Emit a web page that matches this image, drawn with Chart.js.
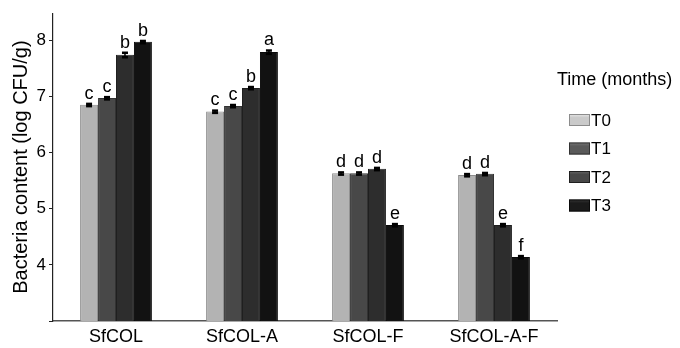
<!DOCTYPE html>
<html>
<head>
<meta charset="utf-8">
<script src="https://cdn.jsdelivr.net/npm/chart.js@4/dist/chart.umd.min.js"></script>
<style>
  html, body { margin: 0; padding: 0; background: #fff; }
  #wrap { width: 680px; height: 348px; }
</style>
</head>
<body>
<div id="wrap"><canvas id="c" width="680" height="348"></canvas></div>
<script>
// Samples and storage times
const categories = ['SfCOL', 'SfCOL-A', 'SfCOL-F', 'SfCOL-A-F'];
const seriesNames = ['T0', 'T1', 'T2', 'T3'];

// Mean bacteria content (log CFU/g) per sample, one array per time point
const t0Values = [6.85, 6.73, 5.63, 5.60];
const t1Values = [6.97, 6.83, 5.63, 5.62];
const t2Values = [7.74, 7.15, 5.71, 4.71];
const t3Values = [7.97, 7.79, 4.71, 4.14];

// Standard errors
const t0Errors = [0.02, 0.02, 0.02, 0.02];
const t1Errors = [0.02, 0.02, 0.02, 0.02];
const t2Errors = [0.04, 0.02, 0.02, 0.02];
const t3Errors = [0.02, 0.03, 0.02, 0.02];

// Significance letters
const t0Letters = ['c', 'c', 'd', 'd'];
const t1Letters = ['c', 'c', 'd', 'd'];
const t2Letters = ['b', 'b', 'd', 'e'];
const t3Letters = ['b', 'a', 'e', 'f'];

// Y axis tick labels shown
const yTickLabels = [4, 5, 6, 7, 8];

const fills = ['#b3b3b3', '#484848', '#2d2d2d', '#121212'];
const edges = ['#8c8c8c', '#333333', '#1f1f1f', '#0a0a0a'];
const legendFills = ['#cacaca', '#5a5a5a', '#484848', '#1a1a1a'];

const allValues = [t0Values, t1Values, t2Values, t3Values];
const allErrors = [t0Errors, t1Errors, t2Errors, t3Errors];
const allLetters = [t0Letters, t1Letters, t2Letters, t3Letters];

const FONT = '"Liberation Sans", Arial, sans-serif';

const datasets = seriesNames.map((name, i) => ({
  label: name,
  data: allValues[i],
  errors: allErrors[i],
  letters: allLetters[i],
  backgroundColor: fills[i],
  borderColor: edges[i],
  borderWidth: 1,
  borderSkipped: 'bottom',
  barPercentage: 1.0,
  categoryPercentage: 0.57
}));

// Error caps and significance letters above each bar
const annotatePlugin = {
  id: 'annotate',
  afterDatasetsDraw(chart) {
    const ctx = chart.ctx;
    const y = chart.scales.y;
    chart.data.datasets.forEach((ds, di) => {
      const meta = chart.getDatasetMeta(di);
      meta.data.forEach((bar, i) => {
        const v = ds.data[i], e = ds.errors[i];
        const yHi = y.getPixelForValue(v + e);
        const yLo = y.getPixelForValue(v - e);
        ctx.save();
        ctx.strokeStyle = '#000';
        ctx.fillStyle = '#000';
        ctx.lineWidth = 1.5;
        ctx.beginPath();
        ctx.moveTo(bar.x, yHi); ctx.lineTo(bar.x, yLo);
        ctx.stroke();
        ctx.fillRect(bar.x - 3, yHi - 1, 6, 2.5);
        ctx.fillRect(bar.x - 3, yLo - 1, 6, 2.5);
        ctx.font = '18px ' + FONT;
        ctx.textAlign = 'center';
        ctx.textBaseline = 'alphabetic';
        ctx.fillText(ds.letters[i], bar.x, yHi - 5);
        ctx.restore();
      });
    });
  }
};

// Legend block on the right with title
const legendPlugin = {
  id: 'sideLegend',
  afterDraw(chart) {
    const ctx = chart.ctx;
    ctx.save();
    ctx.fillStyle = '#000';
    ctx.font = '18px ' + FONT;
    ctx.textBaseline = 'alphabetic';
    ctx.textAlign = 'left';
    ctx.fillText('Time (months)', 557, 85);
    ctx.textBaseline = 'middle';
    chart.data.datasets.forEach((ds, i) => {
      const bx = 569, by = 114 + i * 28.5, bw = 21, bh = 12;
      const g = ctx.createLinearGradient(0, by, 0, by + bh);
      g.addColorStop(0, shade(legendFills[i], 30));
      g.addColorStop(0.3, legendFills[i]);
      g.addColorStop(1, legendFills[i]);
      ctx.fillStyle = g;
      ctx.fillRect(bx, by, bw, bh);
      ctx.strokeStyle = edges[i];
      ctx.lineWidth = 1;
      ctx.strokeRect(bx + 0.5, by + 0.5, bw - 1, bh - 1);
      ctx.fillStyle = '#000';
      ctx.font = '17px ' + FONT;
      ctx.fillText(ds.label, bx + bw + 1, by + bh / 2 + 1);
    });
    ctx.restore();
  }
};

function shade(hex, amt) {
  const n = parseInt(hex.slice(1), 16);
  const r = Math.min(255, (n >> 16) + amt), g = Math.min(255, ((n >> 8) & 255) + amt), b = Math.min(255, (n & 255) + amt);
  return 'rgb(' + r + ',' + g + ',' + b + ')';
}

new Chart(document.getElementById('c'), {
  type: 'bar',
  data: { labels: categories, datasets },
  options: {
    responsive: false,
    animation: false,
    layout: { padding: { top: 7, right: 123, left: 0, bottom: 0 } },
    plugins: { legend: { display: false }, tooltip: { enabled: false } },
    scales: {
      x: {
        grid: { display: false, drawTicks: false },
        border: { display: true, color: '#555', width: 1.5 },
        ticks: { color: '#000', font: { family: FONT, size: 18 }, padding: 5 },
        afterFit(scale) { scale.height = 27; }
      },
      y: {
        min: 3,
        max: 8.48,
        grid: { drawOnChartArea: false, drawTicks: true, tickLength: 4, color: '#222' },
        border: { display: true, color: '#222', width: 1.2 },
        ticks: {
          stepSize: 1,
          includeBounds: false,
          color: '#000',
          padding: 3,
          font: { family: FONT, size: 17 },
          callback: (v) => yTickLabels.includes(v) ? String(v) : ''
        },
        title: {
          display: true,
          text: 'Bacteria content (log CFU/g)',
          color: '#000',
          font: { family: FONT, size: 20 },
          padding: { top: 9, bottom: 0 }
        },
        afterFit(scale) { scale.width = 53; }
      }
    }
  },
  plugins: [annotatePlugin, legendPlugin]
});
</script>
</body>
</html>
